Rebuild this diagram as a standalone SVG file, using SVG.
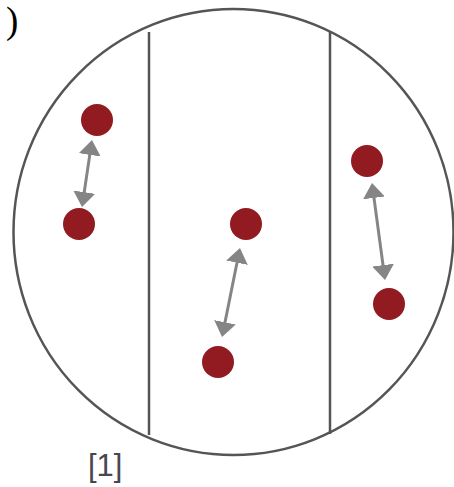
<svg xmlns="http://www.w3.org/2000/svg" width="454" height="487" viewBox="0 0 454 487">
<style>
.dot{fill:#911b21}
.wall{stroke:#555;stroke-width:2.5;fill:none}
.conn{stroke:#858585;stroke-width:3;fill:none;marker-start:url(#ah);marker-end:url(#ah)}
</style>
<defs>
<marker id="ah" viewBox="0 0 15 22" refX="5" refY="11" markerWidth="15" markerHeight="22" markerUnits="userSpaceOnUse" orient="auto-start-reverse">
<path d="M0,0 L15,11 L0,22 z" fill="#858585"/>
</marker>
</defs>
<rect width="454" height="487" fill="#fff"/>
<text x="6" y="33" font-family="Liberation Serif, serif" font-size="37" fill="#000">)</text>
<g id="vessel">
<ellipse class="wall" cx="233.5" cy="232" rx="220" ry="223" stroke-width="2"/>
<line class="wall" x1="149" y1="32" x2="149" y2="435"/>
<line class="wall" x1="330" y1="32" x2="330" y2="434"/>
</g>
<g id="dot-l1"><circle class="dot" cx="97" cy="120" r="16"/></g>
<g id="dot-l2"><circle class="dot" cx="79" cy="224" r="16"/></g>
<g id="dot-m1"><circle class="dot" cx="246" cy="224" r="16"/></g>
<g id="dot-m2"><circle class="dot" cx="218" cy="362" r="16"/></g>
<g id="dot-r1"><circle class="dot" cx="367" cy="161" r="16"/></g>
<g id="dot-r2"><circle class="dot" cx="389" cy="304" r="16"/></g>
<g id="connectors">
<line class="conn" x1="90.5" y1="149.9" x2="83.5" y2="197.1"/>
<line class="conn" x1="238" y1="257.8" x2="224" y2="327.2"/>
<line class="conn" x1="373.3" y1="192.9" x2="383.7" y2="270.1"/>
</g>
<text x="88" y="476" font-family="Liberation Sans, Arial, sans-serif" font-size="31" fill="#4a4650">[1]</text>
</svg>
